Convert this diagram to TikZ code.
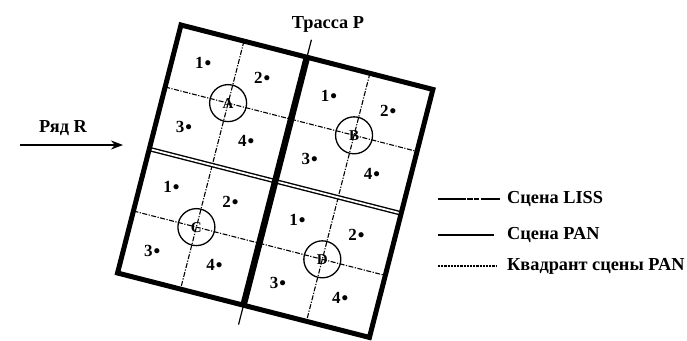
\documentclass[tikz,border=0pt]{standalone}
\usepackage{fontspec}
\setmainfont{Liberation Serif}
\usetikzlibrary{arrows.meta}
\tikzset{
  frameline/.style={line width=5pt, line join=miter, line cap=rect},
  midline/.style={line width=6.5pt},
  dblline/.style={double, double distance=1.8pt, line width=1.4pt},
  quadline/.style={line width=1.1pt, dash pattern=on 5pt off 1.5pt on 1.2pt off 1.5pt},
  trackline/.style={line width=1.2pt},
  numlbl/.style={font=\fontsize{17}{17}\selectfont\bfseries, inner sep=0pt},
  txt/.style={font=\fontsize{18.3}{18.3}\selectfont\bfseries, inner sep=0pt},
  ctr/.style={circle, draw, line width=1.3pt, minimum size=37pt, inner sep=0pt,
              font=\fontsize{15}{15}\selectfont\bfseries},
  lissline/.style={line width=2pt, dash pattern=on 28pt off 1.2pt on 6pt off 1.2pt on 5pt off 1.2pt on 40pt},
  panline/.style={line width=1.5pt},
  quadleg/.style={line width=1.2pt, dash pattern=on 2.2pt off 1pt},
}
\newcommand{\dotlbl}[1]{#1\hspace{1pt}\raisebox{-1pt}{\fontsize{19}{19}\selectfont •}}
\begin{document}
\begin{tikzpicture}[x=1pt,y=1pt]
\useasboundingbox (0,0) rectangle (687,-340);

\begin{scope}[shift={(181,-25)}, rotate=-14.35]
  % corners and key points
  \coordinate (TL) at (0,0);
  \coordinate (TR) at (260,0);
  \coordinate (BR) at (260,-256);
  \coordinate (BL) at (0,-256);
  \coordinate (TM) at (130,0);
  \coordinate (BM) at (130,-256);
  \coordinate (ML) at (0,-128);
  \coordinate (MR) at (260,-128);
  \coordinate (PT) at (130,18);
  \coordinate (PB) at (130,-276);

  % quadrant lines
  \foreach \cx/\cy/\tp/\bt/\lf/\rt in {65/-64/0/-128/0/130, 195/-64/0/-128/130/260,
                                      65/-192/-128/-256/0/130, 195/-192/-128/-256/130/260}{
    \draw[quadline] (\cx,\tp) -- (\cx,\bt);
    \draw[quadline] (\lf,\cy) -- (\rt,\cy);
  }

  % centres with circles
  \node[ctr] (A) at (65,-64) {A};
  \node[ctr] (B) at (195,-64) {B};
  \node[ctr] (C) at (65,-192) {C};
  \node[ctr] (D) at (195,-192) {D};

  % numbered points
  \foreach \cx/\cy/\n in {65/-64/a, 195/-64/b, 65/-192/c, 195/-192/d}{
    \node[numlbl] (\n1) at (\cx-34,\cy+32) {\dotlbl{1}};
    \node[numlbl] (\n2) at (\cx+27,\cy+32) {\dotlbl{2}};
    \node[numlbl] (\n3) at (\cx-37,\cy-34) {\dotlbl{3}};
    \node[numlbl] (\n4) at (\cx+27,\cy-33) {\dotlbl{4}};
  }

  % track P
  \draw[trackline] (PT) -- (PB);
  % scene boundaries
  \draw[dblline] (ML) -- (MR);
  \draw[frameline] (TL) -- (TR) -- (BR) -- (BL) -- cycle;
  \draw[midline] (TM) -- (BM);
\end{scope}

% track label
\node[txt] (P) at (328,-24) {Трасса P};

% row R
\node[txt] (R) at (63,-128) {Ряд R};
\coordinate (R0) at (20,-145);
\coordinate (R1) at (123,-145);
\draw[line width=1.2pt, -{Stealth[length=12pt,width=9pt]}] (R0) -- (R1);

% legend
\node[txt, anchor=west] (L1) at (507,-199) {Сцена LISS};
\node[txt, anchor=west] (L2) at (507,-235) {Сцена PAN};
\node[txt, anchor=west] (L3) at (507,-266) {Квадрант сцены PAN};
\coordinate (L1s) at (438,-199);
\coordinate (L2s) at (438,-235);
\coordinate (L3s) at (438,-266);
\draw[lissline, shorten >=7pt] (L1s) -- (L1.west);
\draw[panline, shorten >=13pt] (L2s) -- (L2.west);
\draw[quadleg, shorten >=10pt] (L3s) -- (L3.west);
\end{tikzpicture}
\end{document}
